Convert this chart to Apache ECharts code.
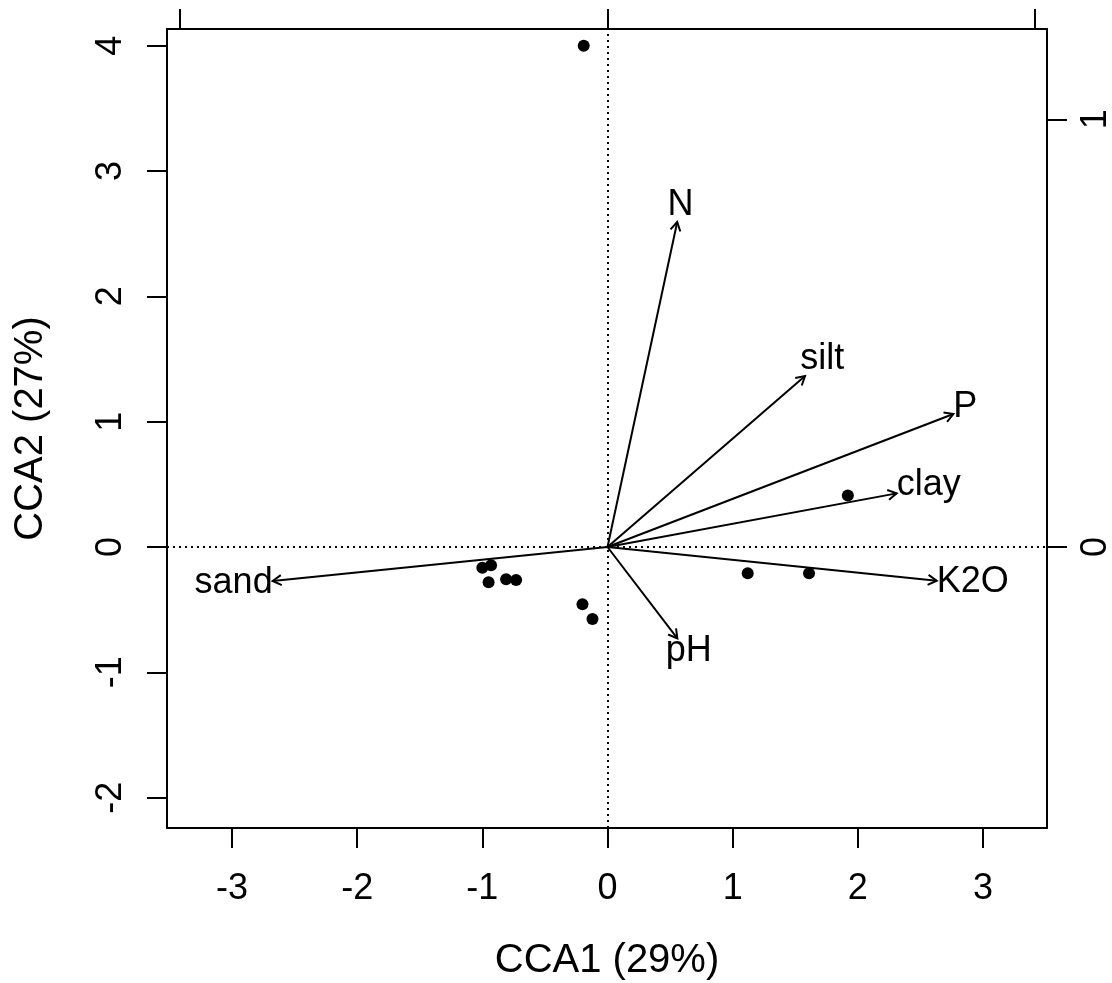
<!DOCTYPE html>
<html>
<head>
<meta charset="utf-8">
<script src="https://cdn.jsdelivr.net/npm/echarts@6/dist/echarts.min.js"></script>
<style>
  html, body { margin: 0; padding: 0; background: #fff; }
  #cca_plot { width: 1112px; height: 983px; }
</style>
</head>
<body>
<div id="cca_plot"></div>
<script>
// site scores (CCA1, CCA2)
var siteX = [-0.19, -1.0, -0.93, -0.95, -0.81, -0.73, -0.2, -0.12, 1.12, 1.61, 1.92]
var siteY = [4.0, -0.165, -0.146, -0.282, -0.258, -0.263, -0.457, -0.574, -0.21, -0.21, 0.41]
// environmental arrows (biplot scores, already scaled to the bottom/left axes)
var envNames = ['N', 'silt', 'P', 'clay', 'K2O', 'pH', 'sand']
var envX = [0.557, 1.578, 2.763, 2.31, 2.63, 0.558, -2.675]
var envY = [2.593, 1.364, 1.061, 0.428, -0.269, -0.729, -0.271]
// tick values
var xTicks = [-3, -2, -1, 0, 1, 2, 3]
var yTicks = [-2, -1, 0, 1, 2, 3, 4]
var topTicks = [-1, 0, 1]
var rightTicks = [0, 1]

var FONT = '"Liberation Sans", Arial, Helvetica, sans-serif'
var measureCtx = document.createElement('canvas').getContext('2d')
function textWidth (s, size) {
  measureCtx.font = size + 'px ' + FONT
  return measureCtx.measureText(s).width
}

var chart = echarts.init(document.getElementById('cca_plot'))

var sitePoints = siteX.map(function (x, i) { return [x, siteY[i]] })
var arrowData = envX.map(function (x, i) { return [x, envY[i], i] })

// arrow with open head + label placed just beyond the tip
function renderArrow (params, api) {
  var o = api.coord([0, 0])
  var t = api.coord([api.value(0), api.value(1)])
  var name = envNames[api.value(2)]
  var dx = t[0] - o[0]
  var dy = t[1] - o[1]
  var ang = Math.atan2(dy, dx)
  var L = 10
  var a1 = ang + Math.PI / 6
  var a2 = ang - Math.PI / 6
  var p1 = [t[0] - L * Math.cos(a1), t[1] - L * Math.sin(a1)]
  var p2 = [t[0] - L * Math.cos(a2), t[1] - L * Math.sin(a2)]

  var w = textWidth(name, 36)
  var offx = (dx >= 0 ? 1 : -1) * (w / 2)
  var offy = (dy >= 0 ? 1 : -1) * 15
  var b = dy / dx
  var move = offy / b
  if (isFinite(move) && Math.abs(move) <= Math.abs(offx)) {
    offx = move
  } else {
    offy = b * offx
  }
  var stroke = { stroke: '#000', lineWidth: 2, fill: null }
  return {
    type: 'group',
    children: [
      { type: 'line', shape: { x1: o[0], y1: o[1], x2: t[0], y2: t[1] }, style: stroke },
      { type: 'polyline', shape: { points: [p1, t, p2] }, style: stroke },
      {
        type: 'text',
        x: t[0] + offx,
        y: t[1] + offy - 2,
        style: {
          text: name,
          fill: '#000',
          font: '36px ' + FONT,
          align: 'center',
          verticalAlign: 'middle'
        }
      }
    ]
  }
}

var axisLine = { show: true, onZero: false, lineStyle: { color: '#000', width: 2 } }
var axisTick = { show: true, inside: false, length: 20, lineStyle: { color: '#000', width: 2 } }

var option = {
  backgroundColor: '#fff',
  animation: false,
  grid: { left: 167, right: 65, top: 29, bottom: 155, outerBoundsMode: 'none', containLabel: false },
  xAxis: [
    {
      type: 'value',
      position: 'bottom',
      min: -3.519,
      max: 3.511,
      axisLine: axisLine,
      axisTick: Object.assign({ customValues: xTicks }, axisTick),
      axisLabel: { customValues: xTicks, margin: 43, fontSize: 36, color: '#000', fontFamily: FONT },
      splitLine: { show: false },
      name: 'CCA1 (29%)',
      nameLocation: 'middle',
      nameGap: 113,
      nameTextStyle: { fontSize: 40, color: '#000', fontFamily: FONT }
    },
    {
      type: 'value',
      position: 'top',
      min: -1.0304,
      max: 1.028,
      axisLine: axisLine,
      axisTick: Object.assign({ customValues: topTicks }, axisTick),
      axisLabel: { show: false },
      splitLine: { show: false }
    }
  ],
  yAxis: [
    {
      type: 'value',
      position: 'left',
      min: -2.242,
      max: 4.133,
      axisLine: axisLine,
      axisTick: Object.assign({ customValues: yTicks }, axisTick),
      axisLabel: { customValues: yTicks, rotate: 90, margin: 38, fontSize: 36, color: '#000', fontFamily: FONT },
      splitLine: { show: false },
      name: 'CCA2 (27%)',
      nameLocation: 'middle',
      nameRotate: 90,
      nameGap: 116,
      nameTextStyle: { fontSize: 40, color: '#000', fontFamily: FONT }
    },
    {
      type: 'value',
      position: 'right',
      min: -0.657,
      max: 1.211,
      axisLine: axisLine,
      axisTick: Object.assign({ customValues: rightTicks }, axisTick),
      axisLabel: { customValues: rightTicks, rotate: 90, margin: 31, fontSize: 36, color: '#000', fontFamily: FONT },
      splitLine: { show: false }
    }
  ],
  series: [
    {
      name: 'env',
      type: 'custom',
      xAxisIndex: 0,
      yAxisIndex: 0,
      renderItem: renderArrow,
      data: arrowData,
      silent: true,
      markLine: {
        silent: true,
        symbol: ['none', 'none'],
        label: { show: false },
        lineStyle: { color: '#000', width: 2, type: [2, 4], opacity: 1 },
        data: [{ xAxis: 0 }, { yAxis: 0 }]
      }
    },
    {
      name: 'sites',
      type: 'scatter',
      xAxisIndex: 0,
      yAxisIndex: 0,
      symbol: 'circle',
      symbolSize: 12,
      itemStyle: { color: '#000', opacity: 1 },
      data: sitePoints,
      silent: true,
      z: 5
    }
  ]
}

chart.setOption(option)
</script>
</body>
</html>
